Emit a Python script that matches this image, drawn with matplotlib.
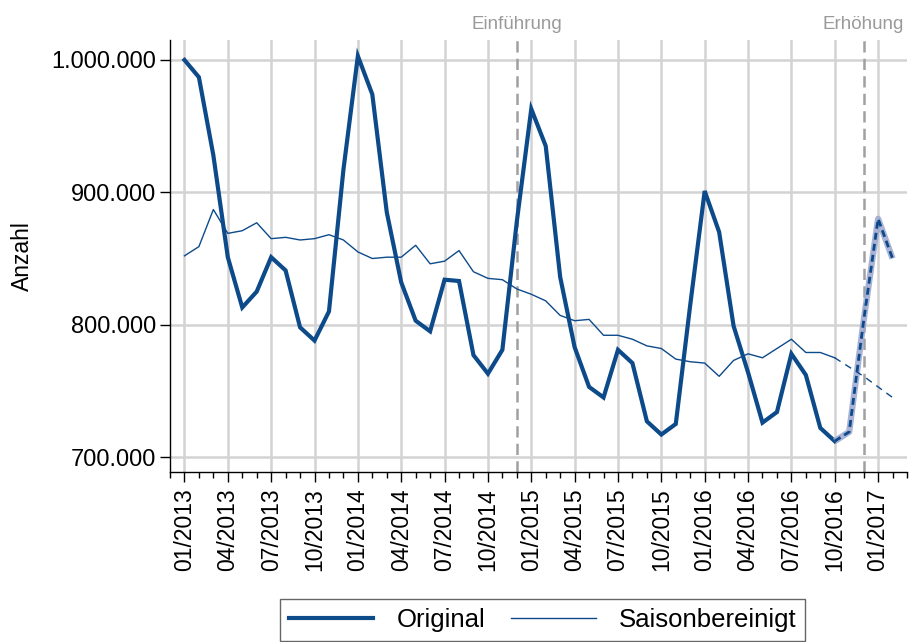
import matplotlib
matplotlib.use("Agg")
import matplotlib.pyplot as plt
from matplotlib.ticker import FuncFormatter, MultipleLocator, FixedLocator

plt.rcParams['font.family'] = ['Liberation Sans', 'DejaVu Sans']

# Month index 0 = 01/2013
original = [1000, 987, 928, 851, 813, 825, 851, 841, 798, 788, 810, 917,
            1003, 974, 885, 832, 803, 795, 834, 833, 777, 763, 781, 878,
            963, 935, 836, 783, 753, 745, 781, 771, 727, 717, 725, 815,
            901, 870, 799, 764, 726, 734, 778, 762, 722, 712]
forecast = [712, 719, 803, 880, 850]           # months 45..49
saison = [852, 859, 887, 869, 871, 877, 865, 866, 864, 865, 868, 864,
          855, 850, 851, 851, 860, 846, 848, 856, 840, 835, 834, 827,
          823, 818, 807, 803, 804, 792, 792, 789, 784, 782, 774, 772,
          771, 761, 773, 778, 775, 782, 789, 779, 779, 775]
saison_fc = [775, 768, 761, 753, 745]          # months 45..49

tick_labels = ["01/2013", "04/2013", "07/2013", "10/2013",
               "01/2014", "04/2014", "07/2014", "10/2014",
               "01/2015", "04/2015", "07/2015", "10/2015",
               "01/2016", "04/2016", "07/2016", "10/2016", "01/2017"]
events = ["Einführung", "Erhöhung"]
event_months = [23, 47]
legend_labels = ["Original", "Saisonbereinigt"]

navy = "#0d4a8a"
grid_c = "#d3d3d3"

fig = plt.figure(figsize=(9.10, 6.42), dpi=100)
ax = fig.add_axes([170/910, 1-472/642, (907-170)/910, (472-40)/642])

x_orig = list(range(len(original)))
x_fc = list(range(45, 45 + len(forecast)))

# grid
tick_pos = [3*i for i in range(len(tick_labels))]
for t in tick_pos:
    ax.axvline(t, color=grid_c, lw=1.8, zorder=0)
for v in [700000, 800000, 900000, 1000000]:
    ax.axhline(v, color=grid_c, lw=1.8, zorder=0)

# event lines
for m, lab in zip(event_months, events):
    ax.axvline(m, color="#a0a0a0", lw=1.8, ls=(0, (4.5, 2.5)), zorder=1)
    ax.text(m, 1.035, lab, transform=ax.get_xaxis_transform(), ha='center',
            va='center', color="#9a9a9a", fontsize=13.5)

l1, = ax.plot(x_orig, [v*1000 for v in original], color=navy, lw=3.0,
              solid_joinstyle='miter', zorder=3)
l2, = ax.plot(list(range(len(saison))), [v*1000 for v in saison], color=navy,
              lw=1.0, zorder=3)
ax.plot(x_fc, [v*1000 for v in forecast], color="#9aa6cf", lw=4.5, alpha=0.85,
        zorder=3, solid_capstyle='butt')
ax.plot(x_fc, [v*1000 for v in forecast], color=navy, lw=2.0,
        ls=(0, (2.5, 1.5)), zorder=4)
ax.plot(list(range(45, 45 + len(saison_fc))), [v*1000 for v in saison_fc],
        color=navy, lw=1.0, ls=(0, (5, 4)), zorder=3)

ax.set_xlim(-1, 50)
ax.set_ylim(688700, 1015100)

ax.xaxis.set_major_locator(FixedLocator(tick_pos))
ax.set_xticklabels(tick_labels, rotation=90, fontsize=16.5)
ax.xaxis.set_minor_locator(MultipleLocator(1))
ax.set_yticks([700000, 800000, 900000, 1000000])
ax.yaxis.set_major_formatter(FuncFormatter(lambda v, p: f"{int(v):,}".replace(",", ".")))
ax.tick_params(axis='y', labelsize=17, length=7, width=1.0, pad=3)
ax.tick_params(axis='x', which='major', length=7, width=1.0, pad=5)
ax.tick_params(axis='x', which='minor', length=4, width=1.0)

for s in ['top', 'right']:
    ax.spines[s].set_visible(False)
for s in ['left', 'bottom']:
    ax.spines[s].set_linewidth(1.0)

ax.text((22-170)/737, 0.5, "Anzahl", transform=ax.transAxes, rotation=90,
        ha='center', va='center', fontsize=16.5)

leg = fig.legend([l1, l2], legend_labels, loc='upper center',
                 bbox_to_anchor=(542.5/910, 1-591/642), ncol=2, fontsize=18.5,
                 frameon=True, fancybox=False, edgecolor="#404040",
                 handlelength=3.3, columnspacing=1.0, borderpad=0.35,
                 handletextpad=0.9, borderaxespad=0.3)
leg.get_frame().set_linewidth(1.0)

fig.savefig("out.png", dpi=100)
